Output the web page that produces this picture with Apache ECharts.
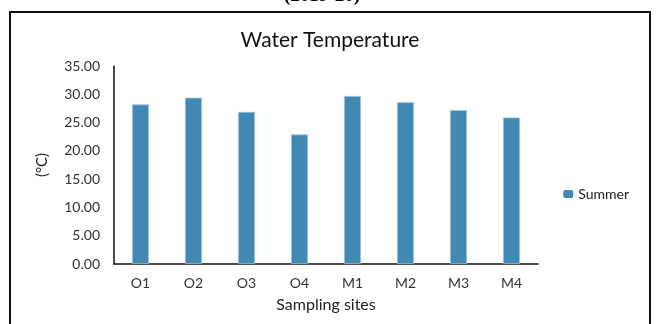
<!DOCTYPE html>
<html><head><meta charset="utf-8">
<script src="https://cdn.jsdelivr.net/npm/echarts@6/dist/echarts.min.js"></script>
<style>html,body{margin:0;padding:0;background:#fff}#c{width:660px;height:324px}</style>
</head><body><div id="c"></div>
<script>
const categories = ['O1','O2','O3','O4','M1','M2','M3','M4'];
const summer = [28.2, 29.4, 26.9, 22.9, 29.7, 28.6, 27.2, 25.9];
const seriesName = 'Summer';
const titleText = 'Water Temperature';
const xName = 'Sampling sites';
const yName = '(°C)';
const topCaption = '(2019-20)';

const chart = echarts.init(document.getElementById('c'), null, {renderer:'canvas'});
const font = 'Lato, "Liberation Sans", sans-serif';
chart.setOption({
  animation:false,
  backgroundColor:'#fff',
  title:{text:titleText,left:'center',top:25,textStyle:{fontFamily:font,fontSize:21,fontWeight:'normal',color:'#111'}},
  graphic:[
    {type:'rect',shape:{x:10,y:12,width:640,height:330},style:{fill:null,stroke:'#111',lineWidth:2},silent:true},
    {type:'text',x:322,y:-13,style:{text:topCaption,fontFamily:'"Liberation Serif", serif',fontSize:19,fontWeight:'bold',fill:'#000',textAlign:'center'}}
  ],
  legend:{data:[seriesName],right:26,orient:'vertical',itemWidth:10,itemHeight:8,itemGap:5,top:182,
    itemStyle:{borderWidth:0},
    textStyle:{fontFamily:font,fontSize:14,color:'#222'}},
  grid:{left:114,top:66,width:424,height:198,containLabel:false},
  xAxis:{type:'category',data:categories,name:xName,nameLocation:'middle',nameGap:33,
    nameTextStyle:{fontFamily:font,fontSize:16,color:'#222'},
    axisLine:{lineStyle:{color:'#111',width:1.5}},axisTick:{show:false},
    axisLabel:{fontFamily:font,fontSize:14,color:'#333',margin:12}},
  yAxis:{type:'value',min:0,max:35,interval:5,name:yName,nameLocation:'middle',nameGap:64,nameRotate:90,
    nameTextStyle:{fontFamily:font,fontSize:15,color:'#222'},
    axisLine:{show:true,lineStyle:{color:'#111',width:1.5}},axisTick:{show:false},splitLine:{show:false},
    axisLabel:{fontFamily:font,fontSize:14,color:'#333',margin:14,formatter:v=>v.toFixed(2)}},
  series:[{name:seriesName,type:'bar',data:summer,barWidth:17,
    itemStyle:{color:'#4189B3',borderColor:'#9FC3DB',borderWidth:0.8}}]
});
</script></body></html>
